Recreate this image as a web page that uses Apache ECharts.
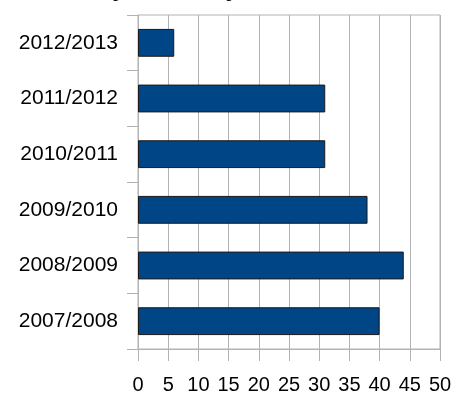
<!DOCTYPE html>
<html>
<head>
<meta charset="utf-8">
<script src="https://cdn.jsdelivr.net/npm/echarts@6/dist/echarts.min.js"></script>
<style>
  html, body { margin: 0; padding: 0; background: #fff; }
  #main { width: 459px; height: 405px; }
</style>
</head>
<body>
<div id="main"></div>
<script>
// categories from bottom to top
var seasons = ['2007/2008', '2008/2009', '2009/2010', '2010/2011', '2011/2012', '2012/2013'];
var counts = [40, 44, 38, 31, 31, 6];
var xTicks = [0, 50, 5]; // min, max, step

var chartDom = document.getElementById('main');
var myChart = echarts.init(chartDom);
var grey = '#b3b3b3';
var font = 'Liberation Sans, Arial, sans-serif';

var option = {
    animation: false,
    // title is cut off by the top edge in the reference, only descenders show
    title: {
        text: 'Totals by Academy',
        left: 17,
        top: -28,
        textStyle: { fontSize: 24, fontWeight: 'bold', color: '#000', fontFamily: font }
    },
    grid: {
        left: 138, right: 19, top: 15, bottom: 56,
        show: true, borderColor: grey, borderWidth: 1,
        backgroundColor: 'transparent'
    },
    xAxis: {
        type: 'value',
        min: xTicks[0],
        max: xTicks[1],
        interval: xTicks[2],
        axisLine: { show: true, lineStyle: { color: grey } },
        axisTick: { show: true, length: 12, lineStyle: { color: grey } },
        splitLine: { show: true, lineStyle: { color: grey } },
        axisLabel: { fontSize: 20, color: '#000', margin: 26, fontFamily: font }
    },
    yAxis: {
        type: 'category',
        data: seasons,
        axisLine: { show: true, lineStyle: { color: grey } },
        axisTick: { show: true, length: 11, lineStyle: { color: grey } },
        splitLine: { show: false },
        axisLabel: { fontSize: 21, color: '#000', margin: 20, fontFamily: font }
    },
    series: [{
        type: 'bar',
        data: counts,
        barWidth: '50%',
        itemStyle: { color: '#004586', borderColor: '#1a1a1a', borderWidth: 1 }
    }]
};

option && myChart.setOption(option);
</script>
</body>
</html>
